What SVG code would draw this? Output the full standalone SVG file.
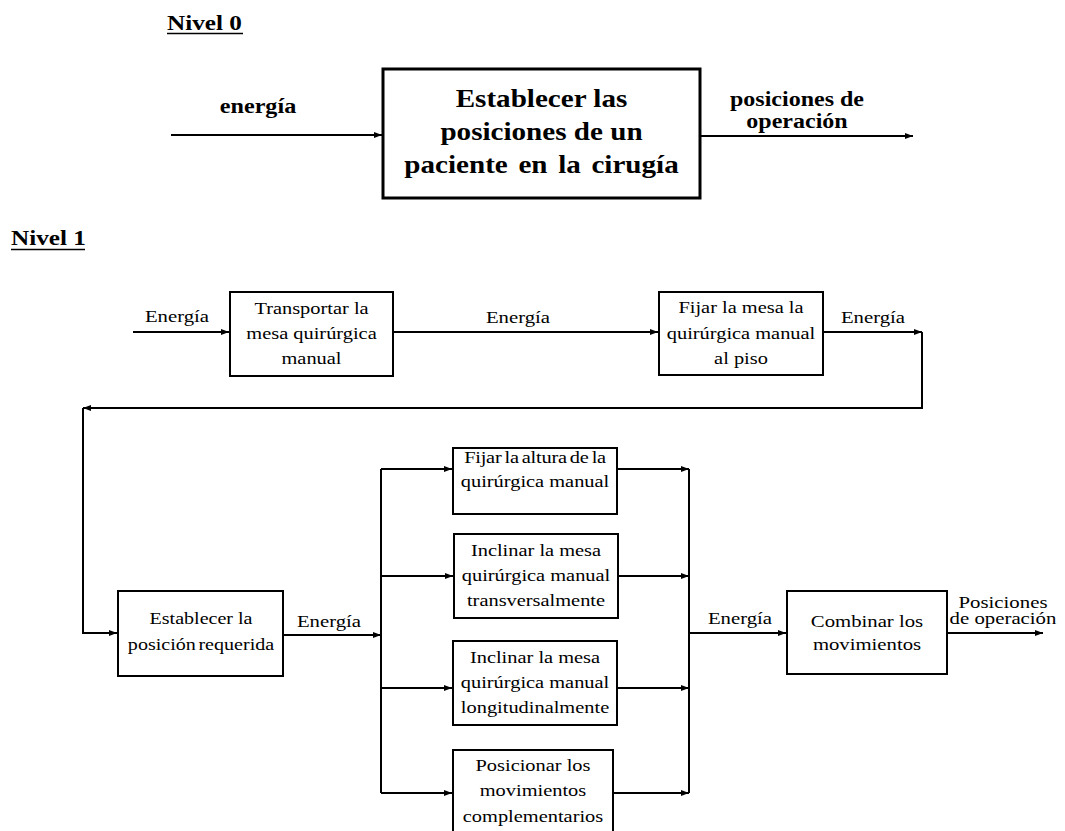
<svg xmlns="http://www.w3.org/2000/svg" width="1065" height="831" viewBox="0 0 1065 831">
<style>
.box{fill:#fff;stroke:#000;stroke-width:2}
.box0{fill:#fff;stroke:#000;stroke-width:3}
.ln{fill:none;stroke:#000;stroke-width:2}
.t{font-family:"Liberation Serif","DejaVu Serif",serif;font-size:17px;fill:#000;text-anchor:middle}
.ts{font-family:"Liberation Serif","DejaVu Serif",serif;font-size:16px;fill:#000;text-anchor:middle}
.tb{font-family:"Liberation Serif","DejaVu Serif",serif;font-weight:bold;font-size:21px;fill:#000;text-anchor:middle}
.tbs{font-family:"Liberation Serif","DejaVu Serif",serif;font-weight:bold;font-size:20px;fill:#000;text-anchor:middle}
.tbox0{font-family:"Liberation Serif","DejaVu Serif",serif;font-weight:bold;font-size:26px;fill:#000;text-anchor:middle}
.th{font-family:"Liberation Serif","DejaVu Serif",serif;font-weight:bold;font-size:21px;fill:#000}
</style>
<defs>
<marker id="ah" markerUnits="userSpaceOnUse" markerWidth="9" markerHeight="8" refX="8" refY="4" orient="auto">
<path d="M0,1 L8,4 L0,7 Z" fill="#000"/>
</marker>
</defs>
<rect width="1065" height="831" fill="#fff"/>

<g id="titles">
<g transform="translate(167,0) scale(1.2,1)"><text class="th" x="0" y="30">Nivel 0</text></g>
<line x1="167" y1="33.5" x2="243" y2="33.5" stroke="#000" stroke-width="1.5"/>
<g transform="translate(11,0) scale(1.2,1)"><text class="th" x="0" y="245">Nivel 1</text></g>
<line x1="11" y1="249.5" x2="85" y2="249.5" stroke="#000" stroke-width="1.5"/>
</g>

<g id="connectors">
<path class="ln" d="M171 135 H382" marker-end="url(#ah)"/>
<path class="ln" d="M700 136 H913" marker-end="url(#ah)"/>
<path class="ln" d="M133 332 H229" marker-end="url(#ah)"/>
<path class="ln" d="M393 332 H658" marker-end="url(#ah)"/>
<path class="ln" d="M823 332 H922" marker-end="url(#ah)"/>
<path class="ln" d="M922 332 V408 H83" marker-end="url(#ah)"/>
<path class="ln" d="M83 408 V633 H117" marker-end="url(#ah)"/>
<path class="ln" d="M283 635 H381" marker-end="url(#ah)"/>
<path class="ln" d="M381 469 V793"/>
<path class="ln" d="M381 469 H452" marker-end="url(#ah)"/>
<path class="ln" d="M381 576 H453" marker-end="url(#ah)"/>
<path class="ln" d="M381 688 H452" marker-end="url(#ah)"/>
<path class="ln" d="M381 793 H452" marker-end="url(#ah)"/>
<path class="ln" d="M617 469 H689" marker-end="url(#ah)"/>
<path class="ln" d="M618 576 H689" marker-end="url(#ah)"/>
<path class="ln" d="M617 688 H689" marker-end="url(#ah)"/>
<path class="ln" d="M613 793 H689" marker-end="url(#ah)"/>
<path class="ln" d="M689 469 V793"/>
<path class="ln" d="M689 633 H786" marker-end="url(#ah)"/>
<path class="ln" d="M947 633 H1043" marker-end="url(#ah)"/>
</g>

<g id="labels">
<g transform="translate(258,0) scale(1.15,1)"><text class="tb" x="0" y="113">energía</text></g>
<g transform="translate(797,0) scale(1.2,1)"><text class="tbs" x="0" y="106">posiciones de</text><text class="tbs" x="0" y="128">operación</text></g>
<g transform="translate(177,0) scale(1.22,1)"><text class="t" x="0" y="322">Energía</text></g>
<g transform="translate(518,0) scale(1.22,1)"><text class="t" x="0" y="323">Energía</text></g>
<g transform="translate(873,0) scale(1.22,1)"><text class="t" x="0" y="323">Energía</text></g>
<g transform="translate(329,0) scale(1.22,1)"><text class="t" x="0" y="627">Energía</text></g>
<g transform="translate(740,0) scale(1.22,1)"><text class="t" x="0" y="624">Energía</text></g>
<g transform="translate(1003,0) scale(1.3,1)"><text class="ts" x="0" y="608">Posiciones</text><text class="ts" x="0" y="624">de operación</text></g>
</g>

<g id="n0">
<rect class="box0" x="383" y="69" width="317" height="129"/>
<g transform="translate(541.5,0) scale(1.12,1)">
<text class="tbox0" x="0" y="107">Establecer las</text>
<text class="tbox0" x="0" y="140">posiciones de un</text>
<text class="tbox0" x="0" y="173" word-spacing="3">paciente en la cirugía</text>
</g>
</g>

<g id="n_transportar">
<rect class="box" x="230" y="292" width="163" height="84"/>
<g transform="translate(311.5,0) scale(1.2,1)">
<text class="t" x="0" y="314">Transportar la</text>
<text class="t" x="0" y="339">mesa quirúrgica</text>
<text class="t" x="0" y="364">manual</text>
</g>
</g>

<g id="n_fijar_piso">
<rect class="box" x="659" y="292" width="164" height="83"/>
<g transform="translate(741,0) scale(1.2,1)">
<text class="t" x="0" y="313">Fijar la mesa la</text>
<text class="t" x="0" y="339">quirúrgica manual</text>
<text class="t" x="0" y="364">al piso</text>
</g>
</g>

<g id="n_establecer">
<rect class="box" x="118" y="591" width="165" height="85"/>
<g transform="translate(201,0) scale(1.18,1)">
<text class="t" x="0" y="624">Establecer la</text>
<text class="t" x="0" y="650" word-spacing="-2">posición requerida</text>
</g>
</g>

<g id="n_altura">
<rect class="box" x="453" y="448" width="164" height="66"/>
<g transform="translate(535,0) scale(1.2,1)">
<text class="t" x="0" y="463" letter-spacing="-0.2" word-spacing="-1.5">Fijar la altura de la</text>
<text class="t" x="0" y="487">quirúrgica manual</text>
</g>
</g>

<g id="n_transversal">
<rect class="box" x="454" y="534" width="164" height="84"/>
<g transform="translate(536,0) scale(1.2,1)">
<text class="t" x="0" y="556">Inclinar la mesa</text>
<text class="t" x="0" y="581">quirúrgica manual</text>
<text class="t" x="0" y="606">transversalmente</text>
</g>
</g>

<g id="n_longitudinal">
<rect class="box" x="453" y="641" width="164" height="84"/>
<g transform="translate(535,0) scale(1.2,1)">
<text class="t" x="0" y="663">Inclinar la mesa</text>
<text class="t" x="0" y="688">quirúrgica manual</text>
<text class="t" x="0" y="713">longitudinalmente</text>
</g>
</g>

<g id="n_complementarios">
<rect class="box" x="453" y="750" width="160" height="95"/>
<g transform="translate(533,0) scale(1.2,1)">
<text class="t" x="0" y="771">Posicionar los</text>
<text class="t" x="0" y="796">movimientos</text>
<text class="t" x="0" y="822">complementarios</text>
</g>
</g>

<g id="n_combinar">
<rect class="box" x="787" y="591" width="160" height="83"/>
<g transform="translate(867,0) scale(1.22,1)">
<text class="t" x="0" y="627">Combinar los</text>
<text class="t" x="0" y="650">movimientos</text>
</g>
</g>
</svg>
